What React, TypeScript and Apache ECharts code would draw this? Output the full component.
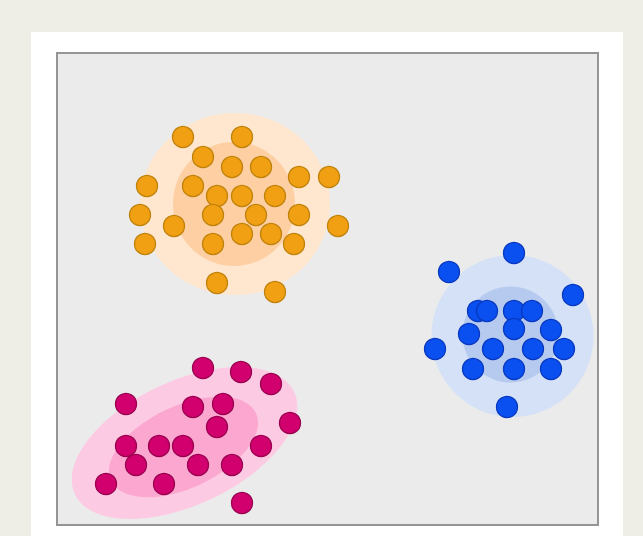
import React, { useEffect, useRef } from "react";
import * as echarts from "echarts";

const orangeX = [126, 185, 146, 175, 204, 242, 272, 90, 136, 160, 185, 218, 83, 156, 199, 242, 117, 281, 185, 214, 88, 156, 237, 160, 218];
const orangeY = [388, 388, 368, 358, 358, 348, 348, 339, 339, 329, 329, 329, 310, 310, 310, 310, 299, 299, 291, 291, 281, 281, 281, 242, 233];

const blueX = [457, 392, 516, 421, 430, 457, 475, 412, 457, 494, 378, 436, 476, 507, 416, 457, 494, 450];
const blueY = [272, 253, 230, 214, 214, 214, 214, 191, 196, 195, 176, 176, 176, 176, 156, 156, 156, 118];

const pinkX = [146, 184, 214, 69, 136, 166, 233, 160, 69, 102, 126, 204, 79, 141, 175, 49, 107, 185];
const pinkY = [157, 153, 141, 121, 118, 121, 102, 98, 79, 79, 79, 79, 60, 60, 60, 41, 41, 22];

// halos: [cx, cy, rx, ry, rotationDeg]
const orangeHalos = [
  [178, 321, 95, 91, 0],
  [177, 321, 61, 62, 0],
];
const blueHalos = [
  [455.5, 189, 81, 81, 0],
  [453.5, 190.5, 48, 48, 0],
];
const pinkHalos = [
  [127.5, 82, 121, 62, 25],
  [126.5, 78, 80, 41, 25],
];

const zip = (xs: number[], ys: number[]) => xs.map((x, i) => [x, ys[i]]);

function haloSeries(data: number[][], colors: string[]) {
  return {
    type: "custom",
    z: 1,
    silent: true,
    data,
    encode: { x: 0, y: 1 },
    renderItem: (params: any, api: any) => {
      const c = api.coord([api.value(0), api.value(1)]);
      const s = api.size([api.value(2), api.value(3)]);
      const rot = (api.value(4) * Math.PI) / 180;
      return {
        type: "ellipse",
        x: c[0],
        y: c[1],
        rotation: rot,
        shape: { cx: 0, cy: 0, rx: s[0], ry: s[1] },
        style: { fill: colors[params.dataIndex] },
      };
    },
  };
}

function pointSeries(data: number[][], fill: string, border: string) {
  return {
    type: "scatter",
    z: 3,
    data,
    symbol: "circle",
    symbolSize: 21,
    itemStyle: { color: fill, borderColor: border, borderWidth: 1.3, opacity: 1 },
  };
}

export default function App() {
  const ref = useRef<HTMLDivElement>(null);
  useEffect(() => {
    document.body.style.margin = "0";
    const chart = echarts.init(ref.current!, null, { renderer: "svg" });
    chart.setOption({
      animation: false,
      backgroundColor: "#efeee6",
      graphic: [
        {
          type: "rect",
          z: -10,
          shape: { x: 31, y: 32, width: 592, height: 520 },
          style: { fill: "#ffffff" },
        },
      ],
      grid: {
        left: 57,
        top: 53,
        width: 541,
        height: 472,
        show: true,
        backgroundColor: "#ebebeb",
        borderColor: "#959595",
        borderWidth: 2,
      },
      xAxis: { type: "value", min: 0, max: 541, show: false, splitLine: { show: false } },
      yAxis: { type: "value", min: 0, max: 472, show: false, splitLine: { show: false } },
      series: [
        haloSeries(orangeHalos, ["#fee6cf", "#fdcfa2"]),
        haloSeries(blueHalos, ["#d4e1f6", "#b5caee"]),
        haloSeries(pinkHalos, ["#fdcae3", "#fba7cf"]),
        pointSeries(zip(orangeX, orangeY), "#f0a012", "#c0820a"),
        pointSeries(zip(blueX, blueY), "#0a50f0", "#0838c0"),
        pointSeries(zip(pinkX, pinkY), "#d2006e", "#9a004f"),
      ],
    });
    return () => chart.dispose();
  }, []);
  return <div ref={ref} style={{ width: 643, height: 536 }} />;
}
